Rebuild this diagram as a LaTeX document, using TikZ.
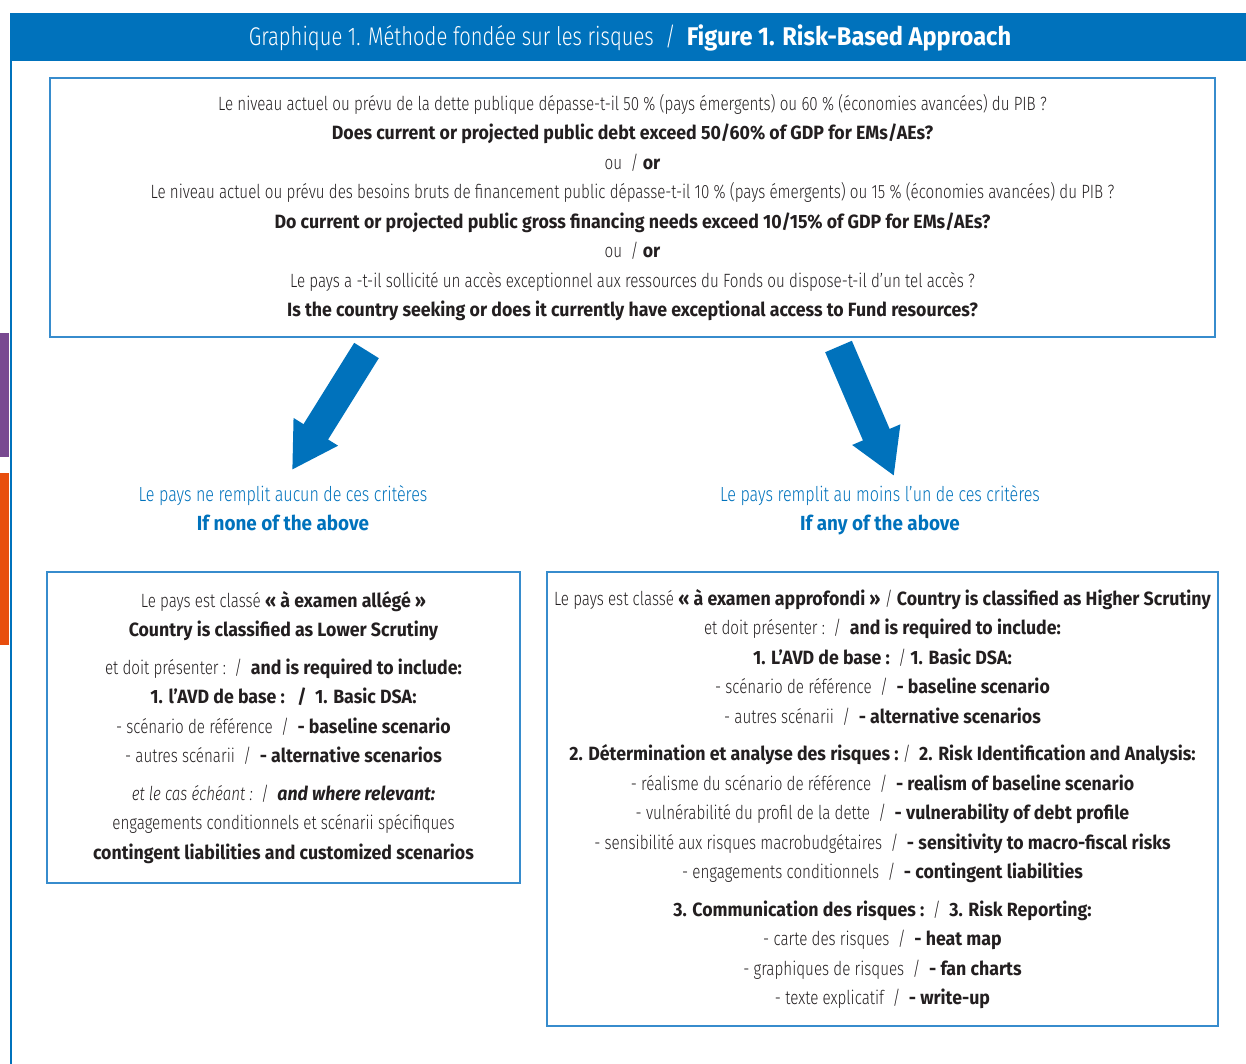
\documentclass[tikz,border=0pt]{standalone}
\usepackage{fontspec}
\setmainfont{Fira Sans}[UprightFont=* Light, ItalicFont=* Light Italic, BoldFont=* Bold, BoldItalicFont=* Bold Italic,
  UprightFeatures={FakeStretch=0.79}, ItalicFeatures={FakeStretch=0.79},
  BoldFeatures={FakeStretch=0.925}, BoldItalicFeatures={FakeStretch=0.925}]
\usetikzlibrary{arrows.meta}
\definecolor{imfblue}{RGB}{0,114,188}
\definecolor{boxblue}{RGB}{55,140,205}
\definecolor{sidepurple}{RGB}{121,73,145}
\definecolor{sideorange}{RGB}{232,78,14}
\definecolor{plaintext}{RGB}{35,31,32}
\tikzset{
  boxtext/.style={draw=boxblue,line width=1pt,align=center,inner sep=0pt,text=plaintext,font=\fontsize{9.6}{14.75}\selectfont},
  bigarrow/.style={draw=imfblue,line width=14.5pt,-{Triangle[width=24.5pt,length=22.5pt]}},
  choice/.style={align=center,text=imfblue,font=\fontsize{10.2}{14.75}\selectfont},
}
\begin{document}
\begin{tikzpicture}[x=0.5pt,y=0.5pt,yscale=-1,xscale=1]
\useasboundingbox (0,0) rectangle (1246,1064);

%Shape: Rectangle [title bar]
\fill [imfblue] (10,13) rectangle (1246,61) ;
%Text Node
\node [text=white,font=\fontsize{12.8}{16}\selectfont] (title) at (630,38) {Graphique 1. Méthode fondée sur les risques\ \ /\ \ \textbf{Figure 1. Risk-Based Approach}};
%Straight Lines [left rule]
\draw [imfblue,line width=1pt] (11,61) -- (11,1064) ;
%Shape: Rectangle [side tabs]
\fill [sidepurple] (0,333) rectangle (9,457) ;
\fill [sideorange] (0,473) rectangle (9,645) ;

%Text Node [question box]
\node [boxtext,minimum width=582.5pt,minimum height=129.5pt] (question) at (632.5,207.5) {%
Le niveau actuel ou prévu de la dette publique dépasse-t-il 50~\% (pays émergents) ou 60~\% (économies avancées) du PIB~?\\
\textbf{Does current or projected public debt exceed 50/60\% of GDP for EMs/AEs?}\\
ou\ \ /\ \textbf{or}\\
Le niveau actuel ou prévu des besoins bruts de financement public dépasse-t-il 10~\% (pays émergents) ou 15~\% (économies avancées) du PIB~?\\
\textbf{Do current or projected public gross financing needs exceed 10/15\% of GDP for EMs/AEs?}\\
ou\ \ /\ \textbf{or}\\
Le pays a -t-il sollicité un accès exceptionnel aux ressources du Fonds ou dispose-t-il d’un tel accès~?\\
\textbf{Is the country seeking or does it currently have exceptional access to Fund resources?}};

%Block Arrows
\coordinate (ltail) at (366.5,350.5);
\coordinate (ltip) at (292,470);
\coordinate (rtail) at (838.5,346.5);
\coordinate (rtip) at (894,476);
\draw [bigarrow] (ltail) -- (ltip) ;
\draw [bigarrow] (rtail) -- (rtip) ;

%Text Node [outcomes]
\node [choice] (nonemet) at (283,508) {Le pays ne remplit aucun de ces critères\\ \textbf{If none of the above}};
\node [choice] (anymet) at (880,510.5) {Le pays remplit au moins l’un de ces critères\\ \textbf{If any of the above}};

%Text Node [lower scrutiny box]
\node [boxtext,minimum width=236.5pt,minimum height=155.5pt] (lower) at (283.5,727.5) {%
Le pays est classé \textbf{«~à examen allégé~»}\\
\textbf{Country is classified as Lower Scrutiny}\\[4pt]
et doit présenter :\ \ /\ \ \textbf{and is required to include:}\\
\textbf{1. l’AVD de base :\ \ \ /\ \ 1. Basic DSA:}\\
- scénario de référence\ \ /\ \ \textbf{- baseline scenario}\\
- autres scénarii\ \ /\ \ \textbf{- alternative scenarios}\\[4pt]
\textit{et le cas échéant :}\ \ /\ \ \textbf{\textit{and where relevant:}}\\
engagements conditionnels et scénarii spécifiques\\
\textbf{contingent liabilities and customized scenarios}};

%Text Node [higher scrutiny box]
\node [boxtext,minimum width=335.5pt,minimum height=227pt] (higher) at (882.5,799) {%
Le pays est classé \textbf{«~à examen approfondi~»}\ /\ \textbf{Country is classified as Higher Scrutiny}\\
et doit présenter :\ \ /\ \ \textbf{and is required to include:}\\
\textbf{1. L’AVD de base :}\ \ /\ \textbf{1. Basic DSA:}\\
- scénario de référence\ \ /\ \ \textbf{- baseline scenario}\\
- autres scénarii\ \ /\ \ \textbf{- alternative scenarios}\\[4pt]
\textbf{2. Détermination et analyse des risques :}\ /\ \ \textbf{2. Risk Identification and Analysis:}\\
- réalisme du scénario de référence\ \ /\ \ \textbf{- realism of baseline scenario}\\
- vulnérabilité du profil de la dette\ \ /\ \ \textbf{- vulnerability of debt profile}\\
- sensibilité aux risques macrobudgétaires\ \ /\ \ \textbf{- sensitivity to macro-fiscal risks}\\
- engagements conditionnels\ \ /\ \ \textbf{- contingent liabilities}\\[4pt]
\textbf{3. Communication des risques :}\ \ /\ \ \textbf{3. Risk Reporting:}\\
- carte des risques\ \ /\ \ \textbf{- heat map}\\
- graphiques de risques\ \ /\ \ \textbf{- fan charts}\\
- texte explicatif\ \ /\ \ \textbf{- write-up}};

\end{tikzpicture}
\end{document}
